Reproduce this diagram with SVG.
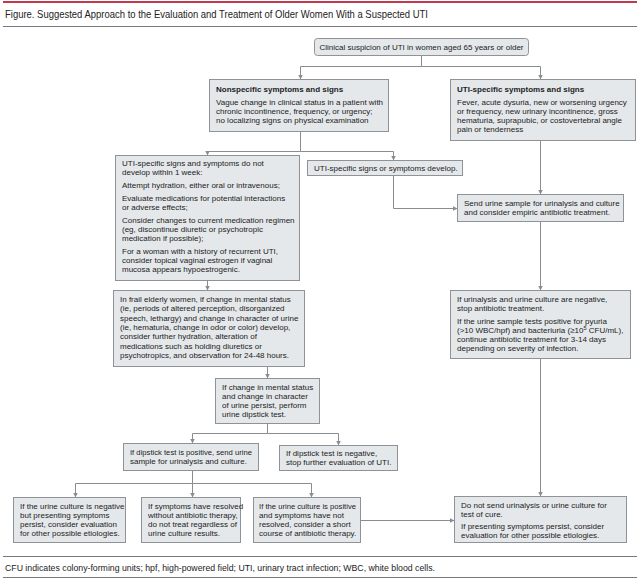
<svg xmlns="http://www.w3.org/2000/svg" width="640" height="581" viewBox="0 0 640 581">
<style>
.box{fill:#e5e8ea;stroke:#8f9396;stroke-width:1}
.t{font-family:"Liberation Sans",Arial,sans-serif;font-size:8px;fill:#222}
.b{font-weight:bold}
.ln{stroke:#8a8d90;stroke-width:1;fill:none}
.rule{stroke:#77797b;stroke-width:1.2}
</style>
<defs>
<marker id="ah" markerUnits="userSpaceOnUse" markerWidth="5" markerHeight="5" refX="4.5" refY="2.5" orient="auto">
<path d="M0,0 L5,2.5 L0,5 z" fill="#8a8d90"/>
</marker>
</defs>
<rect width="640" height="581" fill="#ffffff"/>
<g id="header">
<line x1="3" y1="2" x2="637" y2="2" stroke="#c0394d" stroke-width="2"/>
<text class="t" x="5" y="18" style="font-size:10.5px" textLength="423" lengthAdjust="spacingAndGlyphs">Figure. Suggested Approach to the Evaluation and Treatment of Older Women With a Suspected UTI</text>
<line class="rule" x1="3" y1="26.5" x2="637" y2="26.5"/>
</g>
<g id="connectors">
<path class="ln" d="M421.5,56 V66.5 H300.5 V79" marker-end="url(#ah)"/>
<path class="ln" d="M421.5,66.5 H540.5 V79" marker-end="url(#ah)"/>
<path class="ln" d="M300.5,132 V151.5 H207.5 V155" marker-end="url(#ah)"/>
<path class="ln" d="M300.5,151.5 H393.5 V160" marker-end="url(#ah)"/>
<path class="ln" d="M393.5,176 V208.5 H457" marker-end="url(#ah)"/>
<path class="ln" d="M540.5,141 V194" marker-end="url(#ah)"/>
<path class="ln" d="M540.5,222 V290" marker-end="url(#ah)"/>
<path class="ln" d="M540.5,359 V496" marker-end="url(#ah)"/>
<path class="ln" d="M207.5,281 V290" marker-end="url(#ah)"/>
<path class="ln" d="M267.5,367 V378" marker-end="url(#ah)"/>
<path class="ln" d="M267.5,424 V433.5 H192.5 V443" marker-end="url(#ah)"/>
<path class="ln" d="M267.5,433.5 H338.5 V445" marker-end="url(#ah)"/>
<path class="ln" d="M192.5,471 V483.5 H75.5 V497" marker-end="url(#ah)"/>
<path class="ln" d="M192.5,483.5 V497" marker-end="url(#ah)"/>
<path class="ln" d="M192.5,483.5 H311.5 V497" marker-end="url(#ah)"/>
<path class="ln" d="M360,520.5 H454" marker-end="url(#ah)"/>
</g>
<g id="n-start">
<rect class="box" x="314.5" y="38.5" width="214" height="17" rx="3"/>
<text class="t" x="421.5" y="50" text-anchor="middle">Clinical suspicion of UTI in women aged 65 years or older</text>
</g>
<g id="n-nonspecific">
<rect class="box" x="209.5" y="79.5" width="179" height="52"/>
<text class="t b" x="216" y="92">Nonspecific symptoms and signs</text>
<text class="t" x="216" y="105">Vague change in clinical status in a patient with</text>
<text class="t" x="216" y="114">chronic incontinence, frequency, or urgency;</text>
<text class="t" x="216" y="123">no localizing signs on physical examination</text>
</g>
<g id="n-utispecific">
<rect class="box" x="450.5" y="79.5" width="185" height="61"/>
<text class="t b" x="457" y="92">UTI-specific symptoms and signs</text>
<text class="t" x="457" y="105">Fever, acute dysuria, new or worsening urgency</text>
<text class="t" x="457" y="114">or frequency, new urinary incontinence, gross</text>
<text class="t" x="457" y="123">hematuria, suprapubic, or costovertebral angle</text>
<text class="t" x="457" y="132">pain or tenderness</text>
</g>
<g id="n-nodevelop">
<rect class="box" x="115.5" y="155.5" width="184" height="125"/>
<text class="t" x="122" y="166">UTI-specific signs and symptoms do not</text>
<text class="t" x="122" y="175">develop within 1 week:</text>
<text class="t" x="122" y="188">Attempt hydration, either oral or intravenous;</text>
<text class="t" x="122" y="201">Evaluate medications for potential interactions</text>
<text class="t" x="122" y="210">or adverse effects;</text>
<text class="t" x="122" y="223">Consider changes to current medication regimen</text>
<text class="t" x="122" y="232">(eg, discontinue diuretic or psychotropic</text>
<text class="t" x="122" y="241">medication if possible);</text>
<text class="t" x="122" y="254">For a woman with a history of recurrent UTI,</text>
<text class="t" x="122" y="263">consider topical vaginal estrogen if vaginal</text>
<text class="t" x="122" y="272">mucosa appears hypoestrogenic.</text>
</g>
<g id="n-develop">
<rect class="box" x="307.5" y="160.5" width="155" height="15"/>
<text class="t" x="314" y="171">UTI-specific signs or symptoms develop.</text>
</g>
<g id="n-send">
<rect class="box" x="457.5" y="194.5" width="166" height="27"/>
<text class="t" x="464" y="205.5">Send urine sample for urinalysis and culture</text>
<text class="t" x="464" y="214.5">and consider empiric antibiotic treatment.</text>
</g>
<g id="n-results">
<rect class="box" x="450.5" y="290.5" width="180" height="68"/>
<text class="t" x="457" y="302">If urinalysis and urine culture are negative,</text>
<text class="t" x="457" y="311">stop antibiotic treatment.</text>
<text class="t" x="457" y="324">If the urine sample tests positive for pyuria</text>
<text class="t" x="457" y="333">(&gt;10 WBC/hpf) and bacteriuria (≥10<tspan font-size="5.5" dy="-3">5</tspan><tspan dy="3"> CFU/mL),</tspan></text>
<text class="t" x="457" y="342">continue antibiotic treatment for 3-14 days</text>
<text class="t" x="457" y="351">depending on severity of infection.</text>
</g>
<g id="n-frail">
<rect class="box" x="113.5" y="290.5" width="191" height="76"/>
<text class="t" x="120" y="302">In frail elderly women, if change in mental status</text>
<text class="t" x="120" y="311.3">(ie, periods of altered perception, disorganized</text>
<text class="t" x="120" y="320.6">speech, lethargy) and change in character of urine</text>
<text class="t" x="120" y="329.9">(ie, hematuria, change in odor or color) develop,</text>
<text class="t" x="120" y="339.2">consider further hydration, alteration of</text>
<text class="t" x="120" y="348.5">medications such as holding diuretics or</text>
<text class="t" x="120" y="357.8">psychotropics, and observation for 24-48 hours.</text>
</g>
<g id="n-persist">
<rect class="box" x="215.5" y="378.5" width="104" height="45"/>
<text class="t" x="222" y="389.5">If change in mental status</text>
<text class="t" x="222" y="398.5">and change in character</text>
<text class="t" x="222" y="407.5">of urine persist, perform</text>
<text class="t" x="222" y="416.5">urine dipstick test.</text>
</g>
<g id="n-positive">
<rect class="box" x="123.5" y="443.5" width="135" height="27"/>
<text class="t" x="130" y="455" textLength="122" lengthAdjust="spacingAndGlyphs">If dipstick test is positive, send urine</text>
<text class="t" x="130" y="464">sample for urinalysis and culture.</text>
</g>
<g id="n-negative">
<rect class="box" x="279.5" y="445.5" width="118" height="25"/>
<text class="t" x="286" y="456">If dipstick test is negative,</text>
<text class="t" x="286" y="465">stop further evaluation of UTI.</text>
</g>
<g id="n-culture-neg">
<rect class="box" x="13.5" y="497.5" width="112" height="45"/>
<text class="t" x="20" y="508.5">If the urine culture is negative</text>
<text class="t" x="20" y="517.5">but presenting symptoms</text>
<text class="t" x="20" y="526.5">persist, consider evaluation</text>
<text class="t" x="20" y="535.5">for other possible etiologies.</text>
</g>
<g id="n-resolved">
<rect class="box" x="141.5" y="497.5" width="99" height="45"/>
<text class="t" x="148" y="508.5">If symptoms have resolved</text>
<text class="t" x="148" y="517.5">without antibiotic therapy,</text>
<text class="t" x="148" y="526.5">do not treat regardless of</text>
<text class="t" x="148" y="535.5">urine culture results.</text>
</g>
<g id="n-culture-pos">
<rect class="box" x="253.5" y="497.5" width="107" height="45"/>
<text class="t" x="259" y="508.5" textLength="97" lengthAdjust="spacingAndGlyphs">If the urine culture is positive</text>
<text class="t" x="259" y="517.5">and symptoms have not</text>
<text class="t" x="259" y="526.5">resolved, consider a short</text>
<text class="t" x="259" y="535.5">course of antibiotic therapy.</text>
</g>
<g id="n-nocure">
<rect class="box" x="454.5" y="496.5" width="172" height="46"/>
<text class="t" x="461" y="507.5">Do not send urinalysis or urine culture for</text>
<text class="t" x="461" y="516.5">test of cure.</text>
<text class="t" x="461" y="529">If presenting symptoms persist, consider</text>
<text class="t" x="461" y="538">evaluation for other possible etiologies.</text>
</g>
<g id="footer">
<line class="rule" x1="3" y1="556.5" x2="637" y2="556.5"/>
<text class="t" x="5" y="571" style="font-size:9.5px" textLength="430" lengthAdjust="spacingAndGlyphs">CFU indicates colony-forming units; hpf, high-powered field; UTI, urinary tract infection; WBC, white blood cells.</text>
<line class="rule" x1="3" y1="577.5" x2="637" y2="577.5"/>
</g>
</svg>
